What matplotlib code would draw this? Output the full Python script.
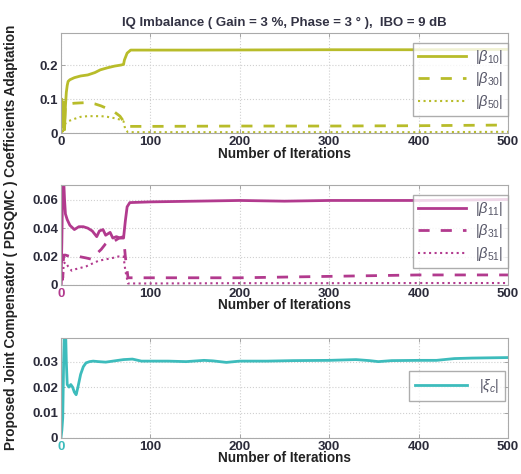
import numpy as np
import matplotlib.pyplot as plt

plt.rcParams['font.family'] = ['Liberation Sans', 'DejaVu Sans']
plt.rcParams['mathtext.fontset'] = 'custom'
plt.rcParams['mathtext.rm'] = 'Liberation Sans'
plt.rcParams['mathtext.it'] = 'Liberation Sans:italic'

# iteration breakpoints and coefficient magnitudes
it_b10 = [0, 1, 2, 3, 4, 5, 6, 7, 8, 10, 15, 22, 30, 38, 44, 52, 60, 67, 70, 71, 74, 78, 150, 300, 400, 500]
b10 = [0, 0.10, 0.02, 0.09, 0.01, 0.08, 0.12, 0.14, 0.152, 0.157, 0.163, 0.168, 0.171, 0.178, 0.186, 0.192, 0.197, 0.2, 0.202,
       0.215, 0.235, 0.244, 0.244, 0.245, 0.245, 0.246]
it_b30 = [0, 1, 2, 3, 4, 5, 8, 15, 22, 30, 38, 45, 52, 60, 66, 70, 72, 75, 100, 200, 300, 400, 500]
b30 = [0, 0.06, 0.01, 0.09, 0.03, 0.085, 0.086, 0.088, 0.089, 0.09, 0.086, 0.08, 0.072, 0.062, 0.05, 0.035, 0.022, 0.02,
       0.02, 0.021, 0.021, 0.022, 0.024]
it_b50 = [0, 1, 2, 3, 4, 5, 8, 15, 22, 30, 38, 45, 52, 60, 66, 70, 72, 75, 100, 200, 300, 400, 500]
b50 = [0, 0.02, 0.005, 0.03, 0.01, 0.03, 0.035, 0.042, 0.048, 0.05, 0.05, 0.05, 0.048, 0.044, 0.04, 0.035, 0.01, 0.003,
       0.003, 0.003, 0.003, 0.003, 0.004]

it_b11 = [0, 1, 2, 3, 4, 5, 7, 10, 15, 20, 25, 30, 35, 40, 43, 47, 50, 55, 58, 62, 66, 70, 72, 74, 77, 100, 150, 200, 250,
          300, 350, 400, 450, 500]
b11 = [0, 0.03, 0.075, 0.075, 0.06, 0.05, 0.046, 0.042, 0.039, 0.041, 0.041, 0.04, 0.038, 0.034, 0.038, 0.039, 0.035,
       0.037, 0.033, 0.034, 0.033, 0.033, 0.045, 0.055, 0.058, 0.0585, 0.059, 0.0595, 0.059, 0.0595, 0.0595, 0.0595,
       0.0598, 0.0602]
it_b31 = [0, 1, 2, 3, 5, 10, 15, 20, 28, 35, 40, 45, 50, 55, 60, 65, 70, 72, 75, 100, 200, 300, 400, 500]
b31 = [0, 0.02, 0.005, 0.021, 0.021, 0.02, 0.02, 0.02, 0.019, 0.018, 0.022, 0.025, 0.029, 0.032, 0.031, 0.033, 0.034,
       0.02, 0.005, 0.005, 0.005, 0.006, 0.007, 0.007]
it_b51 = [0, 1, 2, 3, 5, 8, 12, 16, 22, 28, 35, 42, 50, 58, 64, 70, 72, 75, 100, 200, 300, 400, 500]
b51 = [0, 0.01, 0.002, 0.015, 0.016, 0.013, 0.01, 0.011, 0.012, 0.013, 0.015, 0.017, 0.018, 0.019, 0.02, 0.02, 0.01,
       0.001, 0.001, 0.0012, 0.0012, 0.0013, 0.0013]

it_xi = [0, 1, 2, 3, 4, 5, 6, 7, 9, 11, 13, 15, 17, 19, 22, 25, 28, 32, 36, 42, 50, 60, 70, 80, 90, 100, 120, 140, 160,
         170, 185, 200, 230, 260, 300, 330, 345, 355, 370, 400, 420, 440, 460, 500]
xi = [0, 0.003, 0.008, 0.03, 0.045, 0.045, 0.03, 0.021, 0.02, 0.021, 0.02, 0.018, 0.017, 0.02, 0.025, 0.028, 0.0295,
      0.03, 0.0302, 0.03, 0.0298, 0.0303, 0.0308, 0.031, 0.0302, 0.0302, 0.0302, 0.03, 0.0305, 0.0303, 0.0297, 0.0302,
      0.0302, 0.0304, 0.0305, 0.0308, 0.0304, 0.03, 0.0304, 0.0305, 0.0305, 0.0312, 0.0314, 0.0316]

x_ticks = [0, 100, 200, 300, 400, 500]

c_top = '#b8bc2a'
c_mid = '#b23a8e'
c_bot = '#3dbcbc'
c_txt = '#2b2b3a'

fig = plt.figure(figsize=(5.21, 4.74), dpi=100)
ax1 = fig.add_axes([0.117, 0.719, 0.858, 0.212])
ax2 = fig.add_axes([0.117, 0.399, 0.858, 0.211])
ax3 = fig.add_axes([0.117, 0.076, 0.858, 0.211])

ax1.plot(it_b10, b10, color=c_top, lw=2, label=r'$|\beta_{10}|$')
ax1.plot(it_b30, b30, color=c_top, lw=2, ls=(0, (4, 4)), label=r'$|\beta_{30}|$')
ax1.plot(it_b50, b50, color=c_top, lw=1.5, ls=':', label=r'$|\beta_{50}|$')
ax1.set_ylim(0, 0.295)
ax1.set_yticks([0, 0.1, 0.2])
ax1.set_yticklabels(['0', '0.1', '0.2'])

ax2.plot(it_b11, b11, color=c_mid, lw=2, label=r'$|\beta_{11}|$')
ax2.plot(it_b31, b31, color=c_mid, lw=2, ls=(0, (4, 4)), label=r'$|\beta_{31}|$')
ax2.plot(it_b51, b51, color=c_mid, lw=1.5, ls=':', label=r'$|\beta_{51}|$')
ax2.set_ylim(0, 0.0705)
ax2.set_yticks([0, 0.02, 0.04, 0.06])
ax2.set_yticklabels(['0', '0.02', '0.04', '0.06'])

ax3.plot(it_xi, xi, color=c_bot, lw=2, label=r'$|\xi_c|$')
ax3.set_ylim(0, 0.0393)
ax3.set_yticks([0, 0.01, 0.02, 0.03])
ax3.set_yticklabels(['0', '0.01', '0.02', '0.03'])

for ax, zc in [(ax1, c_txt), (ax2, c_mid), (ax3, c_bot)]:
    ax.set_xlim(0, 500)
    ax.set_xticks(x_ticks)
    ax.set_xticklabels([str(v) for v in x_ticks])
    ax.grid(True, ls=':', color='#d0d0d0', lw=0.8)
    ax.tick_params(labelsize=9.5, colors=c_txt, length=3, width=0.6, direction='in', top=True, right=True,
                   pad=2, color='#999999')
    for lbl in ax.get_xticklabels() + ax.get_yticklabels():
        lbl.set_fontweight('bold')
    ax.get_xticklabels()[0].set_color(zc)
    for sp in ax.spines.values():
        sp.set_color('#aaaaaa')
        sp.set_linewidth(0.8)
    ax.set_xlabel('Number of Iterations', fontsize=9.8, fontweight='bold', labelpad=-1, color='#222222')

leg_kw = dict(loc='upper right', bbox_to_anchor=(1.0, 0.9), fontsize=10.5, handlelength=3.3, frameon=True,
              fancybox=False, edgecolor='#999999', borderpad=0.35, labelspacing=0.3, handletextpad=0.6,
              borderaxespad=0)
for ax in (ax1, ax2):
    leg = ax.legend(**leg_kw)
    for t in leg.get_texts():
        t.set_color('#555566')
leg = ax3.legend(loc='upper right', bbox_to_anchor=(0.993, 0.67), fontsize=10.5, handlelength=3.6, frameon=True,
                 fancybox=False, edgecolor='#999999', borderpad=0.4, handletextpad=0.8, borderaxespad=0)
for t in leg.get_texts():
    t.set_color('#555566')

ax1.set_title('IQ Imbalance ( Gain = 3 %, Phase = 3 ° ),  IBO = 9 dB', fontsize=9.5, fontweight='bold',
              color='#333344', pad=5)

fig.text(0.022, 0.5, 'Proposed Joint Compensator ( PDSQMC ) Coefficients Adaptation', rotation=90,
         ha='center', va='center', fontsize=9.8, fontweight='bold', color='#222222')

fig.savefig('out.png', dpi=100)
